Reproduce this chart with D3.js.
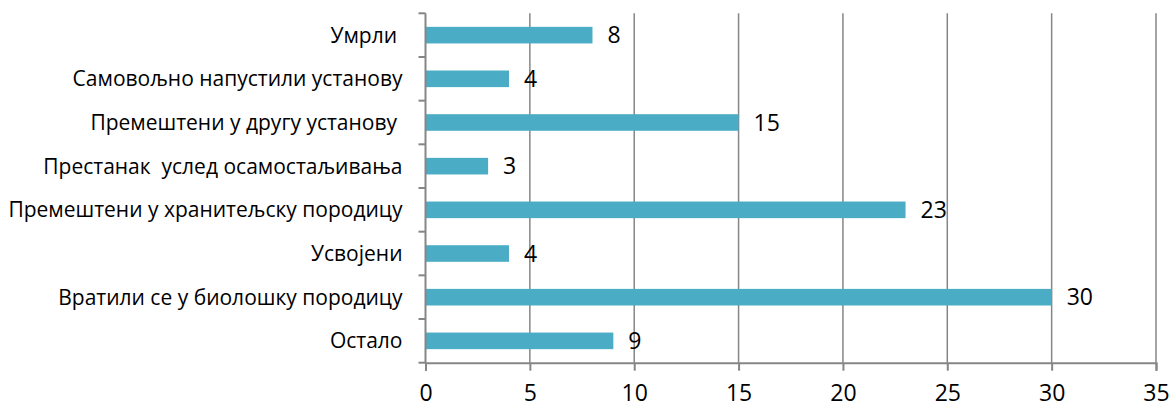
<!DOCTYPE html>
<html>
<head>
<meta charset="utf-8">
<script src="https://cdn.jsdelivr.net/npm/d3@7"></script>
<style>
  html, body { margin: 0; padding: 0; background: #fff; }
  svg { display: block; }
  text { font-family: "Open Sans", "Noto Sans", sans-serif; fill: #000; white-space: pre; }
</style>
</head>
<body>
<svg id="chart" width="1173" height="405"></svg>
<script>
const categories = [
  "Умрли ",
  "Самовољно напустили установу",
  "Премештени у другу установу ",
  "Престанак  услед осамостаљивања",
  "Премештени у хранитељску породицу",
  "Усвојени",
  "Вратили се у биолошку породицу",
  "Остало"
];
const values = [8, 4, 15, 3, 23, 4, 30, 9];
const xTicks = [0, 5, 10, 15, 20, 25, 30, 35];

const W = 1173, H = 405;
const margin = { top: 13.3, right: 17, bottom: 42.3, left: 425.5 };
const innerW = W - margin.left - margin.right;
const innerH = H - margin.top - margin.bottom;

const svg = d3.select("#chart");
const g = svg.append("g").attr("transform", `translate(${margin.left},${margin.top})`);

const x = d3.scaleLinear().domain([0, 35]).range([0, innerW]);
const y = d3.scaleBand().domain(categories).range([0, innerH]).paddingInner(0.62).paddingOuter(0.31);
const band = d3.scaleBand().domain(categories).range([0, innerH]);

const axisColor = "#868686";

// gridlines
g.selectAll("line.grid").data(xTicks.filter(d => d > 0)).enter().append("line")
  .attr("class", "grid")
  .attr("x1", d => x(d)).attr("x2", d => x(d))
  .attr("y1", 0).attr("y2", innerH)
  .attr("stroke", axisColor).attr("stroke-width", 1.5);

// bars
g.selectAll("rect.bar").data(values).enter().append("rect")
  .attr("class", "bar")
  .attr("x", x(0))
  .attr("y", (d, i) => y(categories[i]))
  .attr("width", d => x(d) - x(0))
  .attr("height", y.bandwidth())
  .attr("fill", "#4BACC6");

// value labels
g.selectAll("text.val").data(values).enter().append("text")
  .attr("class", "val")
  .attr("x", d => x(d) + 15)
  .attr("y", (d, i) => y(categories[i]) + y.bandwidth() / 2)
  .attr("dy", "0.36em")
  .attr("font-size", 23)
  .text(d => d);

// x axis
const xAxis = d3.axisBottom(x).tickValues(xTicks).tickSize(8).tickPadding(14).tickFormat(d3.format("d"));
const xg = g.append("g").attr("transform", `translate(0,${innerH})`).call(xAxis);
xg.select(".domain").attr("stroke", axisColor).attr("stroke-width", 2);
xg.selectAll(".tick line").attr("stroke", axisColor).attr("stroke-width", 2);
xg.selectAll(".tick text").attr("font-size", 23).attr("font-family", "'Open Sans', sans-serif").attr("fill", "#000");

// y axis (ticks at band boundaries)
const yg = g.append("g");
yg.append("line").attr("x1", 0).attr("x2", 0).attr("y1", 0).attr("y2", innerH)
  .attr("stroke", axisColor).attr("stroke-width", 2);
const boundaries = categories.map(c => band(c)).concat([innerH]);
yg.selectAll("line.yt").data(boundaries).enter().append("line")
  .attr("class", "yt")
  .attr("x1", -7).attr("x2", 0)
  .attr("y1", d => d).attr("y2", d => d)
  .attr("stroke", axisColor).attr("stroke-width", 2);

// category labels
yg.selectAll("text.cat").data(categories).enter().append("text")
  .attr("class", "cat")
  .attr("x", -23)
  .attr("y", d => band(d) + band.bandwidth() / 2)
  .attr("dy", "0.36em")
  .attr("text-anchor", "end")
  .attr("font-size", 21)
  .text(d => d);
</script>
</body>
</html>
